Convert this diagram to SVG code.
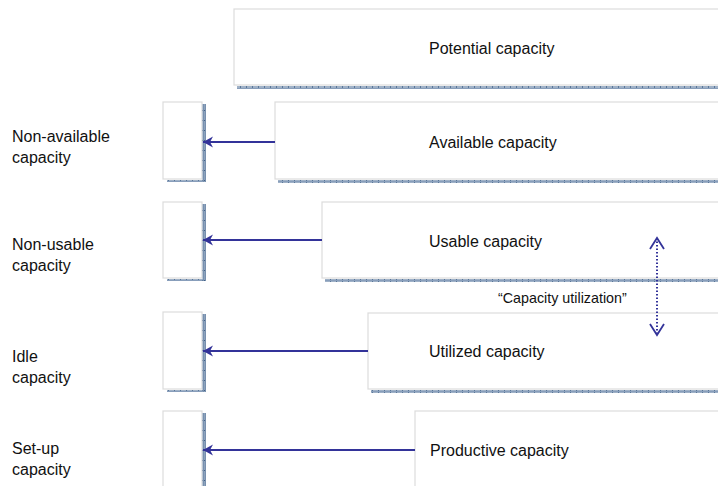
<svg xmlns="http://www.w3.org/2000/svg" width="718" height="486" viewBox="0 0 718 486">
  <defs>
    <pattern id="hsh" x="0" y="0" width="6" height="3" patternUnits="userSpaceOnUse">
      <rect width="6" height="3" fill="#9fb1c7"/>
      <rect x="0" y="0" width="1" height="3" fill="#5a7799"/>
      <rect x="0" y="1" width="6" height="1" fill="#889ebb"/>
    </pattern>
    <pattern id="vsh" x="0" y="0" width="4" height="10" patternUnits="userSpaceOnUse">
      <rect width="4" height="10" fill="#8da3bd"/>
      <rect x="0" y="0" width="4" height="1" fill="#3f5f85"/>
      <rect x="1" y="0" width="1" height="10" fill="#7890ae"/>
      <rect x="3" y="0" width="1" height="10" fill="#7890ae"/>
    </pattern>
    <marker id="stealth" markerUnits="userSpaceOnUse" markerWidth="14" markerHeight="14" refX="11" refY="7" orient="auto">
      <path d="M11,7 L1,1.5 L4,7 L1,12.5 Z" fill="#333399"/>
    </marker>
    <marker id="vee" markerUnits="userSpaceOnUse" markerWidth="16" markerHeight="16" refX="14" refY="8" orient="auto-start-reverse">
      <path d="M3,1 L14,8 L3,15" fill="none" stroke="#333399" stroke-width="1.8"/>
    </marker>
  </defs>
  <style>
    .box { fill: #ffffff; stroke: #dcdcdc; stroke-width: 1.2; }
    .t { font-family: "Liberation Sans", Arial, sans-serif; font-size: 16px; fill: #111111; }
    .ts { font-family: "Liberation Sans", Arial, sans-serif; font-size: 14.3px; fill: #111111; }
    .conn { stroke: #333399; stroke-width: 2; fill: none; }
  </style>
  <rect width="718" height="486" fill="#ffffff"/>

  <g id="potential">
    <rect class="box" x="234" y="9" width="490" height="76"/>
    <rect x="237" y="86" width="485" height="3" fill="url(#hsh)"/>
    <text class="t" x="429" y="54">Potential capacity</text>
  </g>

  <g id="available">
    <rect class="box" x="275" y="102" width="450" height="77"/>
    <rect x="278" y="180" width="445" height="3" fill="url(#hsh)"/>
    <text class="t" x="429" y="148">Available capacity</text>
  </g>
  <g id="non-available">
    <rect class="box" x="163" y="102" width="39" height="77"/>
    <rect x="167" y="180" width="36" height="2" fill="url(#hsh)"/>
    <rect x="202.5" y="104" width="3.5" height="78" fill="url(#vsh)"/>
    <text class="t" x="12" y="142">Non-available</text>
    <text class="t" x="12" y="163">capacity</text>
  </g>

  <g id="usable">
    <rect class="box" x="322" y="202" width="400" height="76"/>
    <rect x="325" y="279" width="398" height="3" fill="url(#hsh)"/>
    <text class="t" x="429" y="247">Usable capacity</text>
  </g>
  <g id="non-usable">
    <rect class="box" x="163" y="202" width="39" height="76"/>
    <rect x="167" y="279" width="36" height="2" fill="url(#hsh)"/>
    <rect x="202.5" y="204" width="3.5" height="77" fill="url(#vsh)"/>
    <text class="t" x="12" y="250">Non-usable</text>
    <text class="t" x="12" y="271">capacity</text>
  </g>

  <g id="utilized">
    <rect class="box" x="368" y="313" width="355" height="76"/>
    <rect x="371" y="390" width="352" height="3" fill="url(#hsh)"/>
    <text class="t" x="429" y="357">Utilized capacity</text>
  </g>
  <g id="idle">
    <rect class="box" x="163" y="312" width="39" height="77"/>
    <rect x="167" y="390" width="36" height="2" fill="url(#hsh)"/>
    <rect x="202.5" y="314" width="3.5" height="78" fill="url(#vsh)"/>
    <text class="t" x="12" y="362">Idle</text>
    <text class="t" x="12" y="383">capacity</text>
  </g>

  <g id="productive">
    <rect class="box" x="415" y="411" width="310" height="90"/>
    <text class="t" x="430" y="456">Productive capacity</text>
  </g>
  <g id="set-up">
    <rect class="box" x="163" y="411" width="39" height="90"/>
    <rect x="202.5" y="413" width="3.5" height="80" fill="url(#vsh)"/>
    <text class="t" x="12" y="454">Set-up</text>
    <text class="t" x="12" y="475">capacity</text>
  </g>

  <g id="utilization-label">
    <text class="ts" x="498" y="303">“Capacity utilization”</text>
  </g>

  <g id="connectors">
    <line class="conn" x1="275" y1="142" x2="203" y2="142" marker-end="url(#stealth)"/>
    <line class="conn" x1="322" y1="240" x2="203" y2="240" marker-end="url(#stealth)"/>
    <line class="conn" x1="368" y1="351" x2="203" y2="351" marker-end="url(#stealth)"/>
    <line class="conn" x1="415" y1="450" x2="203" y2="450" marker-end="url(#stealth)"/>
    <line x1="657" y1="238" x2="657" y2="335" stroke="#333399" stroke-width="2" stroke-dasharray="1.5,2" marker-start="url(#vee)" marker-end="url(#vee)"/>
  </g>
</svg>
